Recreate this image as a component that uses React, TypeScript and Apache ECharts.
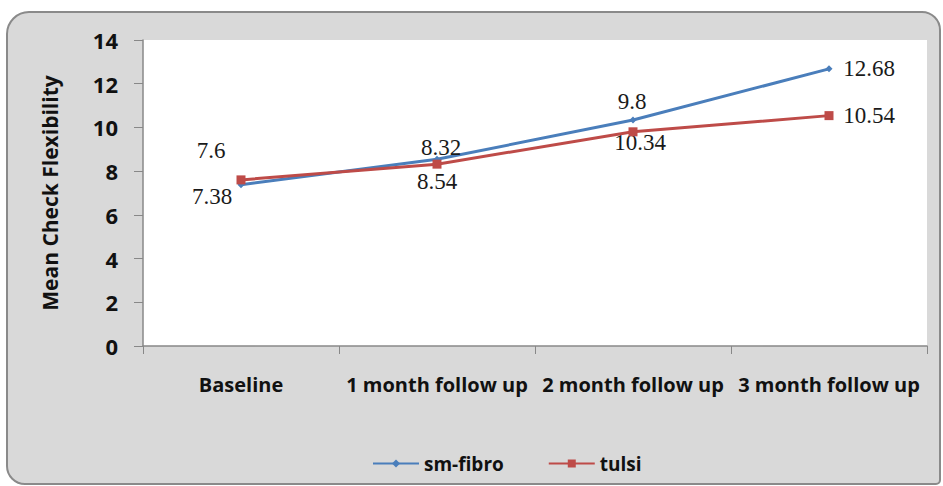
import React, { useEffect, useRef } from "react";
import * as echarts from "echarts";

const categories = ["Baseline", "1 month follow up", "2 month follow up", "3 month follow up"];
const smFibro = [7.38, 8.54, 10.34, 12.68];
const tulsi = [7.6, 8.32, 9.8, 10.54];
const yTicks = { min: 0, max: 14, interval: 2 };

// label offsets (px) from each point, for layout only
const smFibroLabelOffsets = [[-29, 12], [0, 22], [7, 23], [40, 0]];
const tulsiLabelOffsets = [[-30, -29], [4, -17], [-1, -30], [40, 0]];

const AXIS_FONT = "'Open Sans', Lato, sans-serif";
const LABEL_FONT = "'Liberation Serif', 'DejaVu Serif', serif";

function withLabels(values: number[], offsets: number[][]) {
  return values.map((v, i) => ({
    value: v,
    label: {
      show: true,
      position: "inside",
      offset: offsets[i],
      align: "center",
      verticalAlign: "middle",
    },
  }));
}

export default function App() {
  const ref = useRef<HTMLDivElement>(null);
  useEffect(() => {
    if (!ref.current) return;
    const chart = echarts.init(ref.current, undefined, { renderer: "svg" });
    const axisText = { fontFamily: AXIS_FONT, fontWeight: "bold", fontSize: 20, color: "#111" };
    chart.setOption({
      animation: false,
      backgroundColor: "#ffffff",
      graphic: [
        {
          type: "rect",
          z: -10,
          shape: { x: 7, y: 12, width: 933, height: 472, r: [22, 18, 4, 18] },
          style: { fill: "#d9d9d9", stroke: "#8a8a8a", lineWidth: 2 },
          silent: true,
        },
      ],
      grid: {
        left: 143,
        right: 16,
        top: 40,
        bottom: 140,
        show: true,
        backgroundColor: "#ffffff",
        borderWidth: 0,
      },
      legend: {
        left: 367,
        top: 449,
        itemWidth: 46,
        itemHeight: 10,
        itemGap: 44,
        textStyle: { ...axisText, fontSize: 19 },
        data: ["sm-fibro", "tulsi"],
      },
      xAxis: {
        type: "category",
        data: categories,
        boundaryGap: true,
        axisLine: { lineStyle: { color: "#888", width: 1.5 } },
        axisTick: { show: true, length: 8, interval: 0, lineStyle: { color: "#888" } },
        axisLabel: {
          interval: 0,
          hideOverlap: false,
          margin: 28,
          ...axisText,
        },
        splitLine: { show: false },
      },
      yAxis: {
        type: "value",
        min: yTicks.min,
        max: yTicks.max,
        interval: yTicks.interval,
        name: "Mean Check Flexibility",
        nameLocation: "middle",
        nameGap: 83,
        nameTextStyle: { ...axisText, fontSize: 21 },
        axisLine: { show: true, lineStyle: { color: "#888", width: 1.5 } },
        axisTick: { show: true, length: 9, lineStyle: { color: "#888" } },
        axisLabel: {
          margin: 25,
          ...axisText,
          fontSize: 22,
        },
        splitLine: { show: false },
      },
      series: [
        {
          name: "sm-fibro",
          type: "line",
          data: withLabels(smFibro, smFibroLabelOffsets),
          color: "#4a7ebb",
          lineStyle: { width: 3, color: "#4a7ebb" },
          symbol: "diamond",
          symbolSize: 7,
          itemStyle: { color: "#4a7ebb" },
          label: { fontFamily: LABEL_FONT, fontSize: 23, color: "#1a1a1a" },
          z: 2,
        },
        {
          name: "tulsi",
          type: "line",
          data: withLabels(tulsi, tulsiLabelOffsets),
          color: "#be4b48",
          lineStyle: { width: 3, color: "#be4b48" },
          symbol: "rect",
          symbolSize: 9,
          itemStyle: { color: "#be4b48" },
          label: { fontFamily: LABEL_FONT, fontSize: 23, color: "#1a1a1a" },
          z: 3,
        },
      ],
    });
    return () => chart.dispose();
  }, []);
  return (
    <div
      ref={ref}
      style={{ position: "fixed", left: 0, top: 0, width: 943, height: 486 }}
    />
  );
}
